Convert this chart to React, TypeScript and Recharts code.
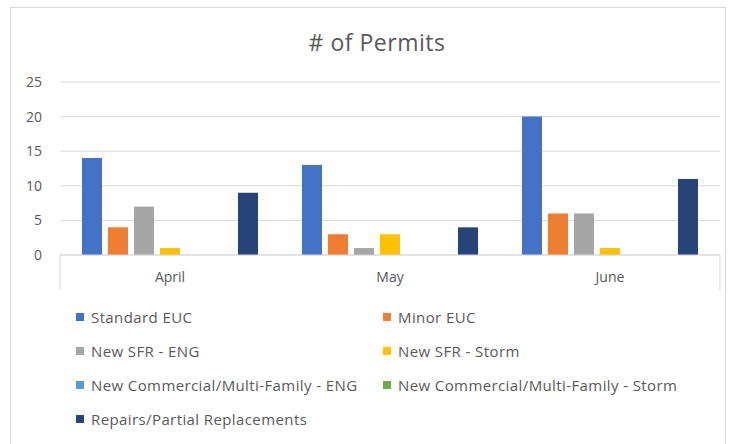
import React from 'react';
import { BarChart, Bar, XAxis, YAxis, CartesianGrid } from 'recharts';

const months = ['April', 'May', 'June'];
const standardEUC = [14, 13, 20];
const minorEUC = [4, 3, 6];
const newSfrEng = [7, 1, 6];
const newSfrStorm = [1, 3, 1];
const newCommEng = [0, 0, 0];
const newCommStorm = [0, 0, 0];
const repairs = [9, 4, 11];
const yTicks = [0, 5, 10, 15, 20, 25];

const series = [
  { key: 'standardEUC', name: 'Standard EUC', values: standardEUC, color: '#4472C4' },
  { key: 'minorEUC', name: 'Minor EUC', values: minorEUC, color: '#ED7D31' },
  { key: 'newSfrEng', name: 'New SFR - ENG', values: newSfrEng, color: '#A5A5A5' },
  { key: 'newSfrStorm', name: 'New SFR - Storm', values: newSfrStorm, color: '#FFC000' },
  { key: 'newCommEng', name: 'New Commercial/Multi-Family - ENG', values: newCommEng, color: '#5B9BD5' },
  { key: 'newCommStorm', name: 'New Commercial/Multi-Family - Storm', values: newCommStorm, color: '#70AD47' },
  { key: 'repairs', name: 'Repairs/Partial Replacements', values: repairs, color: '#264478' }
];

const data = months.map((month, i) => {
  const row: { [key: string]: string | number } = { month };
  series.forEach((s) => {
    row[s.key] = s.values[i];
  });
  return row;
});

const FONT = '"Open Sans", sans-serif';
const TEXT = '#595959';
const GRID = '#d9d9d9';

const PLOT_LEFT = 60;
const PLOT_RIGHT = 720;
const band = (PLOT_RIGHT - PLOT_LEFT) / months.length;

// excel style: tick marks only at the outer edges of the category axis
const MonthTick = (props: any) => {
  const { x, y, payload, index } = props;
  return (
    <g>
      {index === 0 && <line x1={x - band / 2} y1={y} x2={x - band / 2} y2={y + 35} stroke={GRID} />}
      {index === months.length - 1 && (
        <line x1={x + band / 2} y1={y} x2={x + band / 2} y2={y + 35} stroke={GRID} />
      )}
      <text x={x} y={y + 23} textAnchor="middle" dominantBaseline="middle" fill={TEXT} fontSize={14} fontFamily={FONT}>
        {payload.value}
      </text>
    </g>
  );
};

const App = () => {
  return (
    <div style={{ position: 'absolute', left: 0, top: 0, width: 734, height: 444, background: 'white', overflow: 'hidden' }}>
      <div
        style={{
          position: 'absolute', left: 10, top: 7, width: 716, height: 460,
          border: `1px solid ${GRID}`, boxSizing: 'border-box'
        }}
      />
      <div
        style={{
          position: 'absolute', left: 0, width: 754, top: 26, textAlign: 'center',
          fontFamily: FONT, fontSize: 23, color: TEXT, lineHeight: '32px', letterSpacing: 0.5
        }}
      >
        # of Permits
      </div>
      <div style={{ position: 'absolute', left: 0, top: 0 }}>
        <BarChart
          width={734}
          height={300}
          data={data}
          margin={{ top: 82, right: 734 - PLOT_RIGHT, left: 10, bottom: 10 }}
          barCategoryGap={22}
          barGap={6}
        >
          <CartesianGrid vertical={false} stroke={GRID} />
          <XAxis
            dataKey="month"
            height={35}
            axisLine={{ stroke: GRID }}
            tickLine={false}
            tickSize={0}
            tickMargin={0}
            tick={<MonthTick />}
            interval={0}
          />
          <YAxis
            width={PLOT_LEFT - 10}
            domain={[0, 25]}
            ticks={yTicks}
            axisLine={false}
            tickLine={false}
            tickSize={0}
            tickMargin={18}
            tick={{ fill: TEXT, fontSize: 14, fontFamily: FONT }}
          />
          {series.map((s) => (
            <Bar key={s.key} dataKey={s.key} name={s.name} fill={s.color} isAnimationActive={false} />
          ))}
        </BarChart>
      </div>
      <div
        style={{
          position: 'absolute', left: 76, top: 300, display: 'grid',
          gridTemplateColumns: '307px 320px', gridAutoRows: '34px', alignItems: 'center',
          fontFamily: FONT, fontSize: 15, color: TEXT, letterSpacing: 0.4
        }}
      >
        {series.map((s) => (
          <div key={s.key} style={{ display: 'flex', alignItems: 'center', whiteSpace: 'nowrap' }}>
            <span style={{ display: 'inline-block', width: 8, height: 8, background: s.color, marginRight: 7 }} />
            {s.name}
          </div>
        ))}
      </div>
    </div>
  );
};

export default App;
